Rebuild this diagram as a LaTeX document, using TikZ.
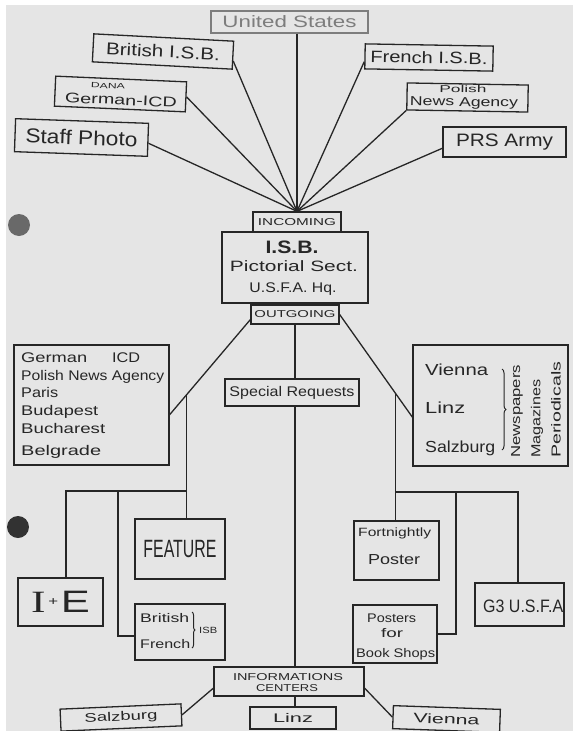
\documentclass[tikz,border=0pt]{standalone}
\usepackage{fontspec}
\setmainfont{Liberation Sans}
\newfontfamily\serifI{Liberation Serif}
\usetikzlibrary{calc,decorations.pathreplacing}
\definecolor{paper}{RGB}{229,229,229}
\definecolor{ink}{RGB}{38,38,38}
\definecolor{faint}{RGB}{125,125,125}
\definecolor{hole1}{RGB}{105,105,105}
\definecolor{hole2}{RGB}{50,50,50}
\newcommand\fw[3]{\resizebox{#1pt}{\height}{\fontsize{#2pt}{#2pt}\selectfont #3}}
\tikzset{
  box/.style={draw=ink, line width=1.3pt, inner sep=0pt, text=ink},
  ln/.style={draw=ink, line width=1.3pt},
  lbl/.style={inner sep=0pt, text=ink},
  brc/.style={draw=ink, line width=1pt, decorate, decoration={brace, amplitude=4pt}},
}
\begin{document}
\begin{tikzpicture}[x=1pt,y=-1pt]
\useasboundingbox (0,0) rectangle (573,731);
\fill[white] (0,0) rectangle (573,731);
\fill[paper] (6,5) rectangle (573,731);
\fill[hole1] (19,225) circle (11);
\fill[hole2] (18,527) circle (11);

% ---------- incoming sources ----------
\node[box, draw=faint, text=faint, minimum width=157, minimum height=22] (us) at (289.5,22) {\fw{134}{16.5}{United States}};
\node[box, rotate=-3, minimum width=140, minimum height=28] (brit) at (163,51.5) {\fw{114}{17}{British I.S.B.}};
\node[box, rotate=-1, minimum width=128, minimum height=25] (french) at (429,57.5) {\fw{117}{16.5}{French I.S.B.}};
\node[box, rotate=-2.5, minimum width=131, minimum height=30] (dana) at (120.5,94) {};
\node[lbl, rotate=-2.5] (dana1) at (108,86) {\fw{34}{7.5}{DANA}};
\node[lbl, rotate=-2.5] (dana2) at (121,100) {\fw{112}{14}{German-ICD}};
\node[box, rotate=-1, minimum width=121, minimum height=27] (polish) at (467.5,97.5) {};
\node[lbl, rotate=-1] (pol1) at (463,89) {\fw{47}{10}{Polish}};
\node[lbl, rotate=-1] (pol2) at (464,103) {\fw{108}{13}{News Agency}};
\node[box, rotate=-2, minimum width=133, minimum height=33] (staff) at (81.5,137.5) {\fw{112}{20}{Staff Photo}};
\node[box, minimum width=123, minimum height=30] (prs) at (504.5,142) {\fw{97}{18}{PRS Army}};

% ---------- centre ----------
\node[box, minimum width=88, minimum height=20] (incoming) at (297,222) {\fw{78}{10}{INCOMING}};
\node[box, minimum width=146, minimum height=71] (isb) at (295,267.5) {};
\node[lbl] (isb1) at (292,247.5) {\fw{53}{18}{\bfseries I.S.B.}};
\node[lbl] (isb2) at (294,266) {\fw{128}{15}{Pictorial Sect.}};
\node[lbl] (isb3) at (293,289) {\fw{87}{14}{U.S.F.A. Hq.}};
\node[box, minimum width=88, minimum height=19] (outgoing) at (295,314.5) {\fw{81}{10}{OUTGOING}};

\coordinate (hub) at (incoming.north);
\draw[ln] (hub |- us.south) -- (hub);
\draw[ln] ($(brit.south east)!0.3!(brit.north east)$) -- (hub);
\draw[ln] (dana.east) -- (hub);
\draw[ln] ($(staff.south east)!0.4!(staff.north east)$) -- (hub);
\draw[ln] ($(french.south west)!0.3!(french.north west)$) -- (hub);
\draw[ln] (polish.south west) -- (hub);
\draw[ln] ($(prs.south west)!0.3!(prs.north west)$) -- (hub);

% ---------- second level ----------
\node[box, minimum width=155, minimum height=120] (leftlist) at (91.5,405) {};
\node[lbl, anchor=base west] (ll1) at (21,362) {\fw{66}{14}{German}};
\node[lbl, anchor=base west] (ll1b) at (112,362) {\fw{28}{14}{ICD}};
\node[lbl, anchor=base west] (ll2) at (21,380) {\fw{143}{14}{Polish News Agency}};
\node[lbl, anchor=base west] (ll3) at (21,397) {\fw{37}{14}{Paris}};
\node[lbl, anchor=base west] (ll4) at (21,415) {\fw{77}{14}{Budapest}};
\node[lbl, anchor=base west] (ll5) at (21,433) {\fw{84}{14}{Bucharest}};
\node[lbl, anchor=base west] (ll6) at (21,455) {\fw{80}{14}{Belgrade}};

\node[box, minimum width=134, minimum height=27] (special) at (292,392.5) {\fw{125}{14}{Special Requests}};

\node[box, minimum width=155, minimum height=121] (rightbox) at (490.5,405.5) {};
\node[lbl, anchor=base west] (rv) at (425,375) {\fw{63}{16}{Vienna}};
\node[lbl, anchor=base west] (rl) at (425,413) {\fw{40}{16}{Linz}};
\node[lbl, anchor=base west] (rs) at (425,452) {\fw{70}{16}{Salzburg}};
\draw[brc] (502,369) -- (502,450);
\node[lbl, rotate=90, anchor=west] (rn) at (517,458) {\fw{93}{13}{Newspapers}};
\node[lbl, rotate=90, anchor=west] (rm) at (537,458) {\fw{78}{13}{Magazines}};
\node[lbl, rotate=90, anchor=west] (rp) at (556,458) {\fw{96}{13}{Periodicals}};

% outgoing connectors
\coordinate (oa) at ($(outgoing.south west)!0.25!(outgoing.north west)$);
\coordinate (ob) at ($(leftlist.south east)!0.42!(leftlist.north east)$);
\draw[ln] (oa) -- (ob);
\coordinate (lj) at ($(oa)!0.793!(ob)$);
\coordinate (ra) at (outgoing.east);
\coordinate (rb) at ($(rightbox.south west)!0.405!(rightbox.north west)$);
\draw[ln] (ra) -- (rb);
\coordinate (rj) at ($(ra)!0.767!(rb)$);
\draw[ln] (outgoing.south) -- (outgoing.south |- special.north);

% ---------- third level left ----------
\node[box, minimum width=90, minimum height=60] (feature) at (180,549) {\fw{73}{25}{FEATURE}};
\node[box, minimum width=85, minimum height=48] (ie) at (60.5,602) {\fw{59}{31}{{\serifI I}\raisebox{7pt}{\fontsize{12pt}{12pt}\selectfont\,+\,}E}};
\node[box, minimum width=90, minimum height=56] (bf) at (180,632) {};
\node[lbl, anchor=base west] (bf1) at (140,622) {\fw{49}{12.5}{British}};
\node[lbl, anchor=base west] (bf2) at (140,648) {\fw{50}{12.5}{French}};
\draw[brc, decoration={brace, amplitude=3pt}] (192,612) -- (192,648);
\node[lbl, anchor=west] (bf3) at (199,630) {\fw{18}{9}{ISB}};

\coordinate (lbar) at (66,491);
\coordinate (lbar2) at (118,491);
\draw[ln] (lj) -- (lj |- feature.north);
\draw[ln] (lj |- lbar) -- (lbar) -- (lbar |- ie.north);
\draw[ln] (lbar2) |- ($(bf.south west)!0.43!(bf.north west)$);

% ---------- third level right ----------
\node[box, minimum width=85, minimum height=59] (fort) at (396.5,550.5) {};
\node[lbl, anchor=base west] (f1) at (358,536) {\fw{73}{12}{Fortnightly}};
\node[lbl, anchor=base west] (f2) at (368,564) {\fw{52}{14.5}{Poster}};
\node[box, minimum width=84, minimum height=58] (posters) at (395,634) {};
\node[lbl, anchor=base west] (p1) at (367,622) {\fw{49}{12.5}{Posters}};
\node[lbl, anchor=base west] (p2) at (381,637) {\fw{22}{12.5}{for}};
\node[lbl, anchor=base west] (p3) at (356,657) {\fw{79}{12.5}{Book Shops}};
\node[box, minimum width=89, minimum height=43] (g3) at (519.5,604.5) {};
\node[lbl, anchor=base west] (g3t) at (483,612) {\fw{80}{18}{G3 U.S.F.A}};

\coordinate (rbar) at (518,492);
\coordinate (rbar2) at (456,492);
\draw[ln] (rj) -- (rj |- fort.north);
\draw[ln] (rj |- rbar) -- (rbar) -- (rbar |- g3.north);
\draw[ln] (rbar2) |- (posters.east);

% ---------- information centres ----------
\node[box, minimum width=150, minimum height=29] (info) at (289,681.5) {};
\node[lbl] (i1) at (288,677) {\fw{110}{10}{INFORMATIONS}};
\node[lbl] (i2) at (287,688.5) {\fw{62}{10}{CENTERS}};
\draw[ln] (special.south -| outgoing.south) -- (outgoing.south |- info.north);

\node[box, rotate=2.5, minimum width=121, minimum height=22] (salz) at (121,717.5) {\fw{73}{12.5}{Salzburg}};
\node[box, minimum width=86, minimum height=22] (linz) at (293,718) {\fw{40}{12.5}{Linz}};
\node[box, rotate=-2, minimum width=107, minimum height=23] (vienna) at (446.5,719) {\fw{66}{13.5}{Vienna}};

\draw[ln] ($(info.south west)!0.28!(info.north west)$) -- (salz.east);
\draw[ln] (outgoing.south |- info.south) -- (outgoing.south |- linz.north);
\draw[ln] ($(info.south east)!0.28!(info.north east)$) -- (vienna.west);
\end{tikzpicture}
\end{document}
